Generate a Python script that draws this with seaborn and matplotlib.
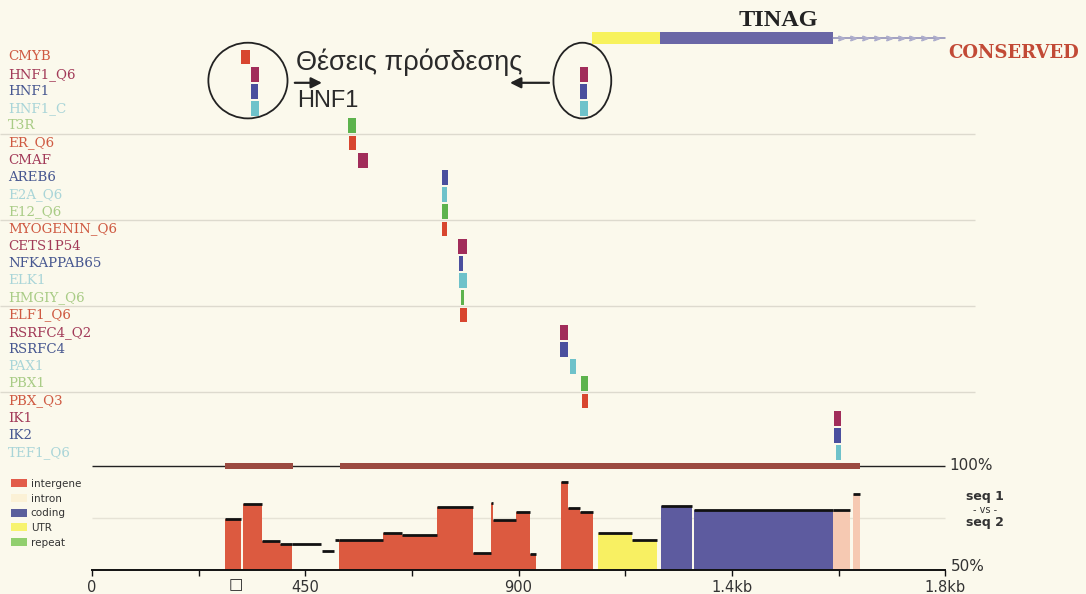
import matplotlib
matplotlib.use("Agg")
import matplotlib.pyplot as plt
import matplotlib.transforms as mtrans
from matplotlib.patches import Ellipse, Patch
import numpy as np
import seaborn as sns

sns.set_theme(style="white")
plt.rcParams['font.family'] = ['DejaVu Sans']

# ---------------- data ----------------
factor_names = [
    "CMYB", "HNF1_Q6", "HNF1", "HNF1_C", "T3R",
    "ER_Q6", "CMAF", "AREB6", "E2A_Q6", "E12_Q6",
    "MYOGENIN_Q6", "CETS1P54", "NFKAPPAB65", "ELK1", "HMGIY_Q6",
    "ELF1_Q6", "RSRFC4_Q2", "RSRFC4", "PAX1", "PBX1",
    "PBX_Q3", "IK1", "IK2", "TEF1_Q6",
]
label_palette = ["#cf5a42", "#a23a58", "#475790", "#a9d5d8", "#a9cc86"]
site_palette = ["#d8462f", "#a12d5a", "#4a4f9e", "#6ec2ca", "#5db34d"]

# binding sites: row index, start (bp), length (bp)
site_row = [0, 1, 2, 3, 1, 2, 3, 4, 5, 6, 7, 8, 9, 10, 11, 12, 13, 14,
            15, 16, 17, 18, 19, 20, 21, 22, 23]
site_start = [314, 335, 335, 335, 1030, 1030, 1030, 540, 542, 561, 738, 738,
              738, 738, 772, 774, 774, 778, 776, 987, 987, 1008, 1032, 1034,
              1565, 1565, 1570]
site_len = [19, 17, 15, 17, 17, 15, 17, 17, 15, 21, 13, 11, 13, 11, 19, 8,
            17, 6, 15, 17, 17, 13, 15, 13, 15, 15, 11]

# gene model (bp)
gene_name = "TINAG"
utr_span = (1055, 1198)
cds_span = (1198, 1563)
gene_end = 1800

# conserved regions drawn on the 100% line
cons_start = [281, 523]
cons_end = [424, 1620]

# percent identity windows: start, end, identity, annotation class
seg_start = [281, 319, 359, 397, 422, 485, 513, 521, 614, 654, 728, 804, 842,
             846, 895, 924, 989, 1004, 1030, 1068, 1139, 1200, 1270, 1563, 1605]
seg_end = [314, 359, 397, 422, 483, 511, 521, 614, 654, 728, 804, 842, 846,
           895, 924, 937, 1004, 1030, 1057, 1139, 1192, 1266, 1563, 1599, 1620]
seg_pct = [74.5, 81.7, 64.0, 62.5, 62.5, 59.0, 64.4, 64.4, 67.8, 66.8, 80.3,
           58.0, 82.0, 74.0, 78.0, 57.7, 92.3, 80.0, 78.0, 67.8, 64.4, 80.8,
           78.8, 78.8, 86.5]
seg_kind = ["intergene"] * 4 + ["none"] * 3 + ["intergene"] * 12 + ["UTR"] * 2 \
    + ["coding"] * 2 + ["intron"] * 2

class_names = ["intergene", "intron", "coding", "UTR", "repeat"]
class_colors = ["#dc5a40", "#f6c9b2", "#5d5b9f", "#f8f062", "#8fd06c"]
legend_colors = ["#e25c4a", "#fbf1d6", "#5a5f9c", "#f7f36e", "#91cf6e"]

tick_pos = [0, 450, 900, 1350, 1800]
tick_labels = ["0", "450", "900", "1.4kb", "1.8kb"]
minor_pos = [225, 675, 1125, 1575]

# ---------------- layout ----------------
W, H = 1086, 594
BG = "#fbf9ec"
fig = plt.figure(figsize=(W / 100, H / 100), dpi=100, facecolor=BG)

bp_per_px = 1 / 0.474
x0_px = 92
xlim = (-x0_px * bp_per_px, (W - x0_px) * bp_per_px)

row_px0, row_step = 57, 17.2
top_h = 480
ax = fig.add_axes([0, 1 - top_h / H, 1, top_h / H])
ax.set_xlim(*xlim)
ax.set_ylim((top_h - row_px0) / row_step, -row_px0 / row_step)
ax.axis("off")
ax.patch.set_alpha(0)

bot_top = 440
bax = fig.add_axes([0, 0, 1, (H - bot_top) / H])
px_per_pct = 2.08
base_px = 570
bax.set_xlim(*xlim)
bax.set_ylim(50 - (H - base_px) / px_per_pct, 50 + (base_px - bot_top) / px_per_pct)
bax.patch.set_alpha(0)
for s in ["top", "right", "left"]:
    bax.spines[s].set_visible(False)

# row separators every five factors
for b in range(5, len(factor_names), 5):
    ax.hlines(b - 0.5, xlim[0], 1863, color="#dddace", lw=1.0, zorder=0)

# factor labels
lab_tr = mtrans.blended_transform_factory(ax.transAxes, ax.transData)
for i, name in enumerate(factor_names):
    ax.text(8 / W, i, name, transform=lab_tr, ha="left", va="center",
            fontsize=9.6, family="DejaVu Serif", color=label_palette[i % 5])

# binding sites
for r, s, L in zip(site_row, site_start, site_len):
    ax.bar(s, 0.86, width=L, bottom=r - 0.43, align="edge",
           color=site_palette[r % 5], edgecolor="none", zorder=3)

# gene model
gy = -1.105
ax.bar(utr_span[0], 0.72, width=utr_span[1] - utr_span[0], bottom=gy - 0.36,
       align="edge", color="#f7f25c", edgecolor="none")
ax.bar(cds_span[0], 0.72, width=cds_span[1] - cds_span[0], bottom=gy - 0.36,
       align="edge", color="#6a67a6", edgecolor="none")
ax.plot([cds_span[1], gene_end], [gy, gy], color="#8a8ab4", lw=1.1)
chev = np.arange(cds_span[1] + 18, gene_end - 10, 25)
ax.plot(chev, np.full(len(chev), gy), ls="none", marker=r"$>$", ms=3.8,
        color="#aeaecc")
ax.text((utr_span[0] + gene_end) / 2 + 20, -2.15, gene_name, ha="center",
        va="center", fontsize=17.5, fontweight="bold", family="Liberation Serif",
        color="#222222")

ax.text(1806, -0.23, "CONSERVED", ha="left", va="center", fontsize=13,
        fontweight="bold", family="DejaVu Serif", color="#c24a36")

# HNF1 clusters highlighted with ellipses
hnf_rows = {0, 1, 2, 3}
clusters = [(0, 700), (700, 1200)]
ell_w = [167, 122]
for (lo, hi), w in zip(clusters, ell_w):
    ss = [s for r, s in zip(site_row, site_start) if r in hnf_rows and lo <= s < hi]
    ee = [s + L for r, s, L in zip(site_row, site_start, site_len)
          if r in hnf_rows and lo <= s < hi]
    cx = (min(ss) + max(ee)) / 2
    ax.add_patch(Ellipse((cx - 4, 1.37), w, 4.4, fill=False, lw=1.3,
                         edgecolor="#222222", zorder=4))

ax.annotate("", xy=(491, 1.5), xytext=(422, 1.5),
            arrowprops=dict(arrowstyle="-|>", lw=1.6, color="#222222",
                            mutation_scale=16))
ax.annotate("", xy=(876, 1.5), xytext=(970, 1.5),
            arrowprops=dict(arrowstyle="-|>", lw=1.6, color="#222222",
                            mutation_scale=16))
ax.text(431, 0.3, "Θέσεις πρόσδεσης", ha="left", va="center", fontsize=19.5,
        family="Liberation Sans", color="#2a2a2a")
ax.text(433, 2.55, "HNF1", ha="left", va="center", fontsize=17,
        family="Liberation Sans", color="#2a2a2a")

# ---------------- identity plot ----------------
bax.hlines(75, 0, 1800, color="#e6e3d6", lw=1.0, zorder=0)
for s, e, p, k in zip(seg_start, seg_end, seg_pct, seg_kind):
    if k != "none":
        bax.bar(s, p - 50, width=e - s, bottom=50, align="edge",
                color=class_colors[class_names.index(k)], edgecolor="none",
                zorder=2)
    bax.hlines(p, s, e, color="#111111", lw=2.0, zorder=3)

# conserved regions on the 100% line
bax.hlines(100, 0, 1800, color="#222222", lw=1.0, zorder=3)
for s, e in zip(cons_start, cons_end):
    bax.bar(s, 2.9, width=e - s, bottom=100 - 1.45, align="edge",
            color="#9b4a40", edgecolor="none", zorder=4)

bax.spines["bottom"].set_position(("data", 50))
bax.spines["bottom"].set_bounds(0, 1800)
bax.spines["bottom"].set_color("#111111")
bax.spines["bottom"].set_linewidth(1.4)
bax.set_yticks([])
bax.set_xticks(tick_pos)
bax.set_xticklabels(tick_labels)
bax.set_xticks(minor_pos, minor=True)
bax.tick_params(axis="x", which="both", direction="out", length=4, width=1,
                color="#111111", labelsize=10.5, labelcolor="#333333", pad=3,
                bottom=True)
bax.text(304, 43, "□", ha="center", va="center", fontsize=11, color="#222222")

bax.text(1808, 100, "100%", ha="left", va="center", fontsize=11, color="#333333")
bax.text(1812, 51.5, "50%", ha="left", va="center", fontsize=11, color="#333333")
bax.text(1884, 85.2, "seq 1", ha="center", va="center", fontsize=9,
         fontweight="bold", color="#333333")
bax.text(1884, 79.0, "- vs -", ha="center", va="center", fontsize=7,
         color="#333333")
bax.text(1884, 72.6, "seq 2", ha="center", va="center", fontsize=9,
         fontweight="bold", color="#333333")

handles = [Patch(facecolor=c, edgecolor="none") for c in legend_colors]
fig.legend(handles, class_names, loc="upper left",
           bbox_to_anchor=(11 / W, 1 - 479 / H), frameon=False, fontsize=7.5,
           handlelength=1.5, handleheight=0.8, labelspacing=0.45,
           handletextpad=0.4, borderaxespad=0, borderpad=0,
           labelcolor="#333333")

fig.savefig("out.png", dpi=100, facecolor=BG)
